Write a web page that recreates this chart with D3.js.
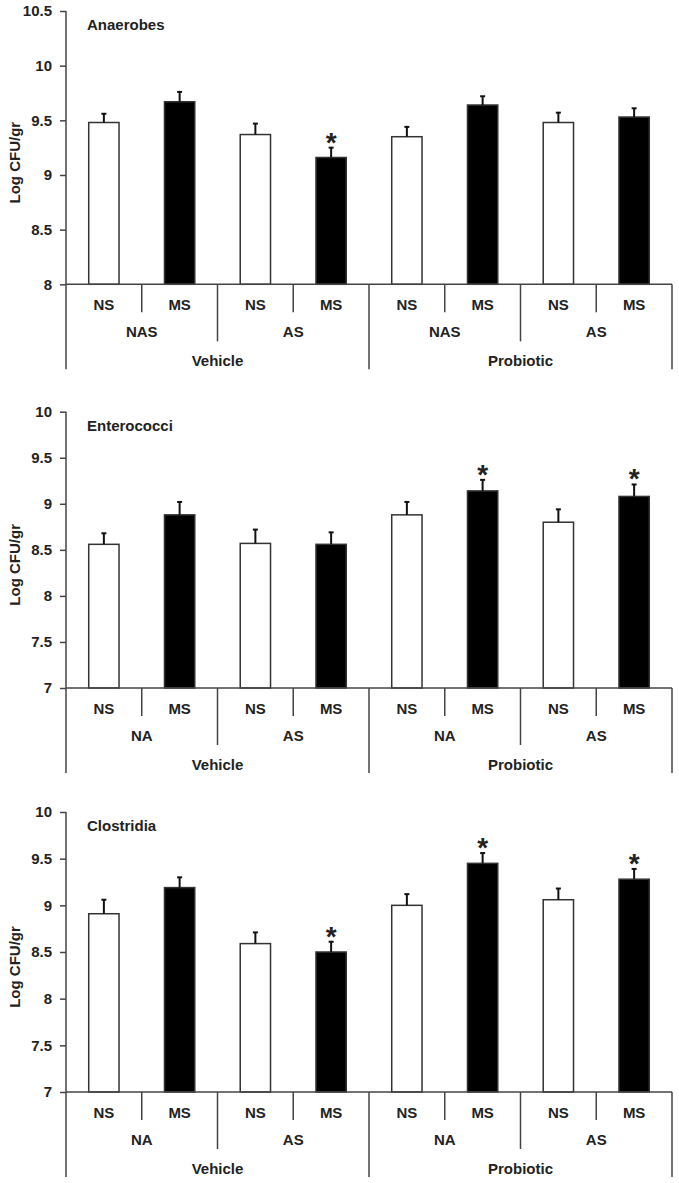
<!DOCTYPE html>
<html>
<head>
<meta charset="utf-8">
<script src="https://cdn.jsdelivr.net/npm/d3@7"></script>
<style>
  html, body { margin: 0; padding: 0; background: #fff; }
  svg { display: block; }
  text { font-family: "Liberation Sans", Arial, sans-serif; font-weight: bold; fill: #222; }
</style>
</head>
<body>
<svg id="chart" width="679" height="1183"></svg>
<script>
// ---- data ----
const stressLabels = ["NS", "MS", "NS", "MS", "NS", "MS", "NS", "MS"];
const treatments = ["Vehicle", "Probiotic"];
const panelTitles = ["Anaerobes", "Enterococci", "Clostridia"];
const groupLabelsAnaerobes = ["NAS", "AS", "NAS", "AS"];
const groupLabelsOther = ["NA", "AS", "NA", "AS"];

const anaerobesMean = [9.48, 9.67, 9.37, 9.16, 9.35, 9.64, 9.48, 9.53];
const anaerobesErr  = [0.08, 0.09, 0.10, 0.09, 0.09, 0.08, 0.09, 0.08];
const anaerobesSig  = [0, 0, 0, 1, 0, 0, 0, 0];

const enterococciMean = [8.56, 8.88, 8.57, 8.56, 8.88, 9.14, 8.80, 9.08];
const enterococciErr  = [0.12, 0.14, 0.15, 0.13, 0.14, 0.12, 0.14, 0.13];
const enterococciSig  = [0, 0, 0, 0, 0, 1, 0, 1];

const clostridiaMean = [8.91, 9.19, 8.59, 8.50, 9.00, 9.45, 9.06, 9.28];
const clostridiaErr  = [0.15, 0.11, 0.12, 0.11, 0.12, 0.11, 0.12, 0.11];
const clostridiaSig  = [0, 0, 0, 1, 0, 1, 0, 1];

const anaerobesTicks = [8, 8.5, 9, 9.5, 10, 10.5];
const otherTicks = [7, 7.5, 8, 8.5, 9, 9.5, 10];

const panels = [
  { title: panelTitles[0], mean: anaerobesMean, err: anaerobesErr, sig: anaerobesSig, ticks: anaerobesTicks, groups: groupLabelsAnaerobes, top: 11, bottom: 284.3 },
  { title: panelTitles[1], mean: enterococciMean, err: enterococciErr, sig: enterococciSig, ticks: otherTicks, groups: groupLabelsOther, top: 411.7, bottom: 688 },
  { title: panelTitles[2], mean: clostridiaMean, err: clostridiaErr, sig: clostridiaSig, ticks: otherTicks, groups: groupLabelsOther, top: 812, bottom: 1092 }
];

// ---- layout ----
const svg = d3.select("#chart");
const xLeft = 66, xRight = 672;
const lineColor = "#444";

const x = d3.scaleBand().domain(d3.range(8)).range([xLeft, xRight]).padding(0);
const barW = x.bandwidth() * 0.4;

panels.forEach(p => {
  const y = d3.scaleLinear().domain([p.ticks[0], p.ticks[p.ticks.length - 1]]).range([p.bottom, p.top]);
  const g = svg.append("g");
  const y0 = p.bottom;

  // y axis
  const ax = g.append("g").attr("transform", `translate(${xLeft},0)`)
    .call(d3.axisLeft(y).tickValues(p.ticks).tickSize(6).tickPadding(8).tickFormat(d3.format("")));
  ax.select(".domain").remove();
  ax.selectAll(".tick line").attr("stroke", lineColor).attr("stroke-width", 1.5);
  ax.selectAll(".tick text").style("font-size", "15px").style("font-family", "'Liberation Sans', Arial, sans-serif").style("font-weight", "bold").attr("fill", "#222");

  // vertical axis line (extends to bottom of category area)
  g.append("line").attr("x1", xLeft).attr("x2", xLeft).attr("y1", p.top).attr("y2", y0 + 85)
    .attr("stroke", lineColor).attr("stroke-width", 1.5);

  // bars
  g.selectAll("rect.bar").data(p.mean).enter().append("rect")
    .attr("x", (d, i) => x(i) + (x.bandwidth() - barW) / 2)
    .attr("y", d => y(d))
    .attr("width", barW)
    .attr("height", d => y0 - y(d))
    .attr("fill", (d, i) => i % 2 === 0 ? "#fff" : "#000")
    .attr("stroke", "#333").attr("stroke-width", 1.5);

  // error bars (upper only)
  p.mean.forEach((m, i) => {
    const cx = x(i) + x.bandwidth() / 2;
    const yt = y(m + p.err[i]);
    g.append("line").attr("x1", cx).attr("x2", cx).attr("y1", y(m)).attr("y2", yt)
      .attr("stroke", "#111").attr("stroke-width", 2);
    g.append("line").attr("x1", cx - 2.5).attr("x2", cx + 2.5).attr("y1", yt).attr("y2", yt)
      .attr("stroke", "#111").attr("stroke-width", 2);
    if (p.sig[i]) {
      g.append("text").attr("x", cx).attr("y", yt + 4)
        .attr("text-anchor", "middle")
        .style("font-size", "28px").style("font-weight", "bold")
        .attr("fill", "#111").text("*");
    }
  });

  // x axis baseline
  g.append("line").attr("x1", xLeft).attr("x2", xRight).attr("y1", y0).attr("y2", y0)
    .attr("stroke", lineColor).attr("stroke-width", 1.5);

  // dividers
  for (let i = 1; i <= 8; i++) {
    const xb = i < 8 ? x(i) : xRight;
    let len;
    if (i % 4 === 0) len = 85;
    else if (i % 2 === 0) len = 57;
    else len = 28;
    g.append("line").attr("x1", xb).attr("x2", xb).attr("y1", y0).attr("y2", y0 + len)
      .attr("stroke", lineColor).attr("stroke-width", 1.5);
  }

  // stress labels
  stressLabels.forEach((s, i) => {
    g.append("text").attr("x", x(i) + x.bandwidth() / 2).attr("y", y0 + 25.5)
      .attr("text-anchor", "middle").style("font-size", "15px").text(s);
  });
  // group labels
  p.groups.forEach((s, j) => {
    g.append("text").attr("x", x(2 * j + 1)).attr("y", y0 + 53)
      .attr("text-anchor", "middle").style("font-size", "15px").text(s);
  });
  // treatment labels
  treatments.forEach((s, k) => {
    g.append("text").attr("x", x(4 * k + 2)).attr("y", y0 + 81.5)
      .attr("text-anchor", "middle").style("font-size", "15px").text(s);
  });

  // title
  g.append("text").attr("x", 87).attr("y", p.top + 19).style("font-size", "15px").text(p.title);

  // y label
  const yc = (p.top + p.bottom) / 2 + 15;
  g.append("text").attr("transform", `translate(14,${yc}) rotate(-90)`)
    .attr("text-anchor", "middle").attr("dominant-baseline", "central")
    .style("font-size", "15px").text("Log CFU/gr");
});
</script>
</body>
</html>
